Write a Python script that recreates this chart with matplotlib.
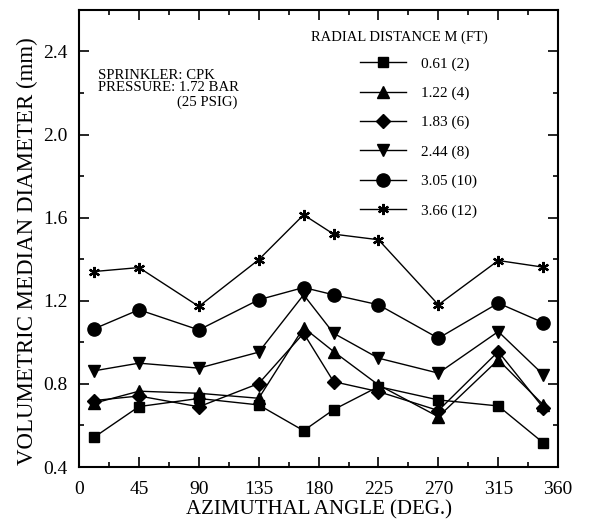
import numpy as np
import matplotlib
matplotlib.use('Agg')
import matplotlib.pyplot as plt
from matplotlib.ticker import MultipleLocator

plt.rcParams['font.family'] = ['Liberation Serif', 'DejaVu Serif']

# azimuthal angle (deg.) where the samples were taken
angle = [11.25, 45, 90, 135, 168.75, 191.25, 225, 270, 315, 348.75]

# volumetric median diameter (mm) for each radial distance
vmd_061 = [0.543, 0.691, 0.730, 0.699, 0.575, 0.676, 0.787, 0.723, 0.694, 0.517]
vmd_122 = [0.707, 0.765, 0.755, 0.731, 1.071, 0.956, 0.795, 0.642, 0.916, 0.700]
vmd_183 = [0.720, 0.742, 0.690, 0.802, 1.044, 0.811, 0.763, 0.672, 0.956, 0.686]
vmd_244 = [0.863, 0.900, 0.876, 0.953, 1.229, 1.044, 0.924, 0.852, 1.052, 0.845]
vmd_305 = [1.065, 1.157, 1.060, 1.205, 1.264, 1.229, 1.181, 1.020, 1.189, 1.095]
vmd_366 = [1.341, 1.360, 1.173, 1.398, 1.614, 1.521, 1.494, 1.181, 1.394, 1.362]

labels = ['0.61 (2)', '1.22 (4)', '1.83 (6)', '2.44 (8)', '3.05 (10)', '3.66 (12)']
series = [vmd_061, vmd_122, vmd_183, vmd_244, vmd_305, vmd_366]
markers = ['s', '^', 'D', 'v', 'o', (6, 2, 0)]
msizes = [7, 8, 7, 8, 9.5, 8]
mews = [1.0, 1.0, 1.0, 1.0, 1.0, 1.6]

fig = plt.figure(figsize=(5.9, 5.23), dpi=100)
ax = fig.add_axes([0.134, 0.107, 0.812, 0.874])

for y, m, ms, mw, lab in zip(series, markers, msizes, mews, labels):
    ax.plot(angle, y, color='black', lw=1.0, marker=m, ms=ms,
            mfc='black', mec='black', mew=mw, label=lab)

ax.set_xlim(0, 360)
ax.set_ylim(0.4, 2.6)
ax.xaxis.set_major_locator(MultipleLocator(45))
ax.xaxis.set_minor_locator(MultipleLocator(22.5))
ax.set_yticks([0.4, 0.8, 1.2, 1.6, 2.0, 2.4])
ax.yaxis.set_minor_locator(MultipleLocator(0.2))
ax.tick_params(which='both', direction='in', top=True, right=True,
               labelsize=14, width=1.2)
ax.tick_params(which='major', length=7)
ax.tick_params(which='minor', length=3.5)
ax.tick_params(axis='x', which='major', pad=10)
ax.tick_params(axis='y', which='major', pad=8)
for s in ax.spines.values():
    s.set_linewidth(1.5)

ax.set_xlabel('AZIMUTHAL ANGLE (DEG.)', fontsize=15, labelpad=2)
ax.set_ylabel('VOLUMETRIC MEDIAN DIAMETER (mm)', fontsize=16.5)
ax.yaxis.set_label_coords(-0.086, 0.473)

ax.text(0.040, 0.871, 'SPRINKLER: CPK\nPRESSURE: 1.72 BAR', transform=ax.transAxes,
        fontsize=10.6, va='top', ha='left', linespacing=0.95)
ax.text(0.205, 0.812, '(25 PSIG)', transform=ax.transAxes,
        fontsize=10.6, va='top', ha='left')

ax.text(0.485, 0.941, 'RADIAL DISTANCE M (FT)', transform=ax.transAxes,
        fontsize=10.5, va='center', ha='left')
ax.legend(loc='upper left', bbox_to_anchor=(0.573, 0.911), frameon=False,
          fontsize=11, handlelength=3.0, handletextpad=1.0, labelspacing=1.02,
          borderaxespad=0)

fig.savefig('out.png', dpi=100)
